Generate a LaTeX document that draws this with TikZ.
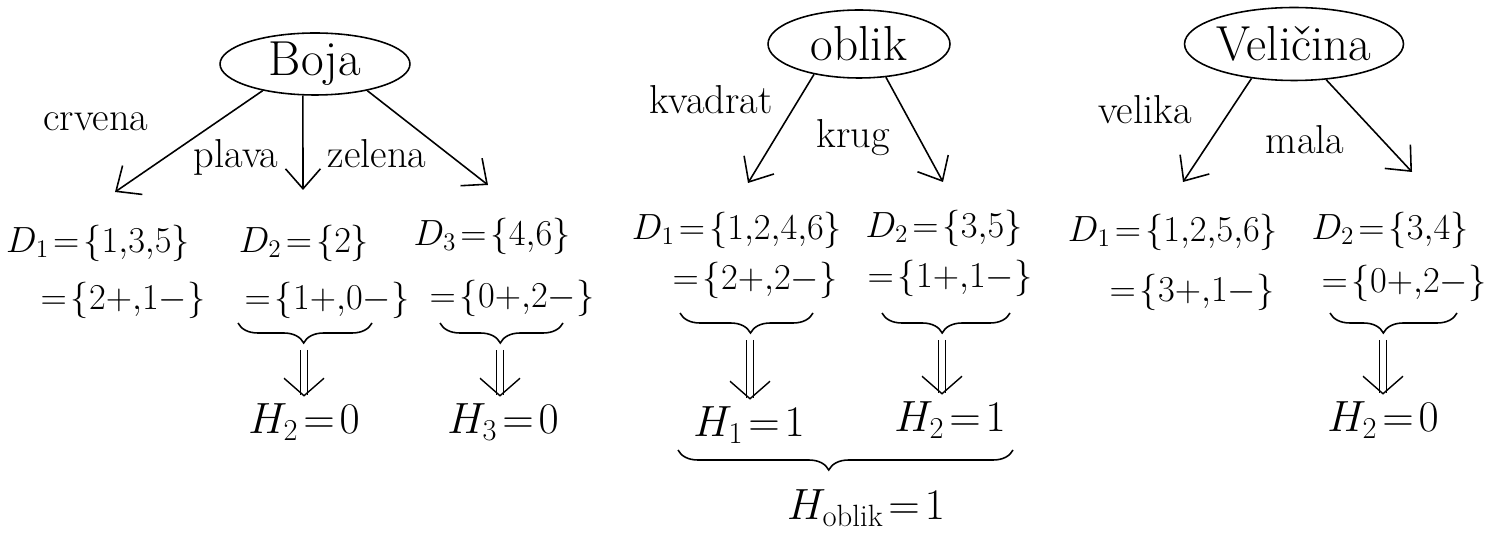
\documentclass[tikz,border=0pt]{standalone}
\usepackage{fontspec}
\usepackage{amsmath,amssymb}
\usetikzlibrary{shapes.geometric, arrows.meta, decorations.pathreplacing}
\thickmuskip=2mu
\medmuskip=1mu
\thinmuskip=0mu

\begin{document}
\begin{tikzpicture}[
  x=0.02cm, y=-0.02cm,
  attrnode/.style={draw, ellipse, line width=0.9pt, inner sep=0pt, font=\fontsize{28}{32}\selectfont},
  valnode/.style={font=\fontsize{23}{27}\selectfont, inner sep=0pt},
  setnode/.style={font=\fontsize{21}{25}\selectfont, inner sep=1pt},
  hnode/.style={font=\fontsize{25}{29}\selectfont, inner sep=1pt},
  branch/.style={-{Straight Barb[length=4mm, width=7mm]}, line width=0.9pt},
  implies/.style={double, double distance=3.5pt, line width=0.8pt, -{Straight Barb[length=3.5mm, width=8mm]}, shorten <=1.4mm, shorten >=1mm},
  setbrace/.style={decorate, decoration={brace, mirror, amplitude=4mm, aspect=#1}, line width=0.9pt},
  setbrace/.default=0.5
]
  \useasboundingbox (0,0) rectangle (1487,540);

  % Boja
  \draw
    (315,64) node[attrnode, minimum width=3.8cm, minimum height=1.24cm] (boja){Boja}
    (96,122) node[valnode] (crvena){crvena}
    (236,157) node[valnode] (plava){plava}
    (377,154) node[valnode] (zelena){zelena}
    (98,243) node[setnode] (d11){$D_1=\{1,3,5\}$}
    (123,300) node[setnode] (e11){$=\{2+,1-\}$}
    (304,243) node[setnode] (d12){$D_2=\{2\}$}
    (327,300) node[setnode] (e12){$=\{1+,0-\}$}
    (492,236) node[setnode] (d13){$D_3=\{4,6\}$}
    (512,298) node[setnode] (e13){$=\{0+,2-\}$}
    (304,422) node[hnode] (h12){$H_2=0$}
    (503,422) node[hnode] (h13){$H_3=0$};
  \coordinate (t11) at (115,192);
  \coordinate (t12) at (303,190);
  \coordinate (t13) at (488,185);
  \coordinate (k12) at (304,343);
  \coordinate (k13) at (500,343);
  \draw[branch] (boja.207) -- (t11);
  \draw[branch] (boja.249) -- (t12);
  \draw[branch] (boja.333) -- (t13);
  \draw[setbrace=0.49] (238,323) -- (372,323);
  \draw[setbrace=0.49] (440,323) -- (563,323);
  \draw[implies] (k12) -- (k12 |- h12.north);
  \draw[implies] (k13) -- (k13 |- h13.north);

  % oblik
  \draw
    (859,44) node[attrnode, minimum width=3.64cm, minimum height=1.36cm] (oblik){oblik}
    (711,100) node[valnode] (kvadrat){kvadrat}
    (853,138) node[valnode] (krug){krug}
    (737,230) node[setnode] (d21){$D_1=\{1,2,4,6\}$}
    (755,280) node[setnode] (e21){$=\{2+,2-\}$}
    (944,228) node[setnode] (d22){$D_2=\{3,5\}$}
    (950,278) node[setnode] (e22){$=\{1+,1-\}$}
    (749,425) node[hnode] (h21){$H_1=1$}
    (950,420) node[hnode] (h22){$H_2=1$}
    (866,508) node[hnode] (hob){$H_{\mathrm{oblik}}=1$};
  \coordinate (t21) at (748,183);
  \coordinate (t22) at (943,182);
  \coordinate (k21) at (750,333);
  \coordinate (k22) at (942,333);
  \draw[branch] (oblik.214) -- (t21);
  \draw[branch] (oblik.309) -- (t22);
  \draw[setbrace=0.53] (680,313) -- (813,313);
  \draw[setbrace=0.47] (882,313) -- (1010,313);
  \draw[implies] (k21) -- (k21 |- h21.north);
  \draw[implies] (k22) -- (k22 |- h22.north);
  \draw[setbrace=0.45] (678,450) -- (1013,450);

  % Velicina
  \draw
    (1294,44) node[attrnode, minimum width=4.16cm, minimum height=1.46cm] (vel){Veličina}
    (1145,110) node[valnode] (velika){velika}
    (1305,140) node[valnode] (mala){mala}
    (1173,232) node[setnode] (d31){$D_1=\{1,2,5,6\}$}
    (1192,292) node[setnode] (e31){$=\{3+,1-\}$}
    (1390,230) node[setnode] (d32){$D_2=\{3,4\}$}
    (1404,283) node[setnode] (e32){$=\{0+,2-\}$}
    (1383,420) node[hnode] (h32){$H_2=0$};
  \coordinate (t31) at (1183,182);
  \coordinate (t32) at (1412,172);
  \coordinate (k32) at (1383,333);
  \draw[branch] (vel.219) -- (t31);
  \draw[branch] (vel.312) -- (t32);
  \draw[setbrace=0.42] (1330,313) -- (1457,313);
  \draw[implies] (k32) -- (k32 |- h32.north);
\end{tikzpicture}
\end{document}
